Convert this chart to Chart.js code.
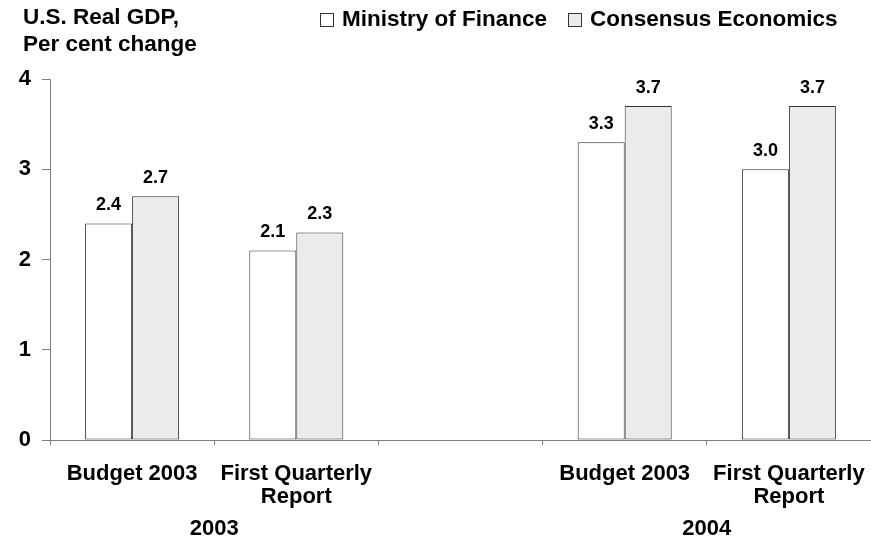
<!DOCTYPE html>
<html>
<head>
<meta charset="utf-8">
<script src="https://cdn.jsdelivr.net/npm/chart.js@4"></script>
<style>
  html, body { margin: 0; padding: 0; background: #fff; }
  #wrap { position: relative; width: 871px; height: 542px; font-family: "Liberation Sans", Arial, sans-serif; font-weight: bold; color: #000; }
  #chart { position: absolute; left: 0; top: 0; }
  #judul { position: absolute; left: 23px; top: 3px; font-size: 22.5px; line-height: 27px; }
  #legenda { position: absolute; left: 320px; top: 5px; font-size: 22.5px; line-height: 28px; white-space: nowrap; }
  .leg-item { display: inline-block; margin-right: 21px; }
  .leg-box { display: inline-block; width: 12px; height: 12px; border: 1px solid #333; vertical-align: -1px; margin-right: 8px; }
</style>
</head>
<body>
<div id="wrap">
  <canvas id="chart" width="871" height="542"></canvas>
  <div id="judul">U.S. Real GDP,<br>Per cent change</div>
  <div id="legenda"></div>
</div>
<script>
// data
var kategori = ['Budget 2003', ['First Quarterly', 'Report'], '', 'Budget 2003', ['First Quarterly', 'Report']];
var nilaiMof = [2.4, 2.1, null, 3.3, 3.0];
var nilaiConsensus = [2.7, 2.3, null, 3.7, 3.7];
var namaSeri = ['Ministry of Finance', 'Consensus Economics'];
var warnaSeri = ['#ffffff', '#ebebeb'];
var tahun = ['2003', '2004'];
var tahunIndex = [[0, 1], [3, 4]];   // kategori yg dicakup tiap tahun
var yTicks = [0, 1, 2, 3, 4];

// legend html
document.getElementById('legenda').innerHTML = namaSeri.map(function(n, i) {
  return '<span class="leg-item"><span class="leg-box" style="background:' + warnaSeri[i] + '"></span>' + n + '</span>';
}).join('');

var FONT = '"Liberation Sans", Arial, sans-serif';

// label nilai di atas bar
var labelNilai = {
  id: 'labelNilai',
  afterDatasetsDraw: function(chart) {
    var ctx = chart.ctx;
    ctx.save();
    ctx.font = 'bold 18px ' + FONT;
    ctx.fillStyle = '#000';
    ctx.textAlign = 'center';
    ctx.textBaseline = 'middle';
    chart.data.datasets.forEach(function(ds, i) {
      chart.getDatasetMeta(i).data.forEach(function(bar, j) {
        if (ds.data[j] == null) return;
        ctx.fillText(ds.data[j].toFixed(1), bar.x, bar.y - 18);
      });
    });
    ctx.restore();
  }
};

// label tahun di bawah sumbu x
var labelTahun = {
  id: 'labelTahun',
  afterDraw: function(chart) {
    var ctx = chart.ctx;
    var x = chart.scales.x;
    ctx.save();
    ctx.font = 'bold 22px ' + FONT;
    ctx.fillStyle = '#000';
    ctx.textAlign = 'center';
    ctx.textBaseline = 'middle';
    tahun.forEach(function(t, i) {
      var a = x.getPixelForValue(tahunIndex[i][0]);
      var b = x.getPixelForValue(tahunIndex[i][1]);
      ctx.fillText(t, (a + b) / 2, 529);
    });
    ctx.restore();
  }
};

new Chart(document.getElementById('chart'), {
  type: 'bar',
  data: {
    labels: kategori,
    datasets: [
      { label: namaSeri[0], data: nilaiMof, backgroundColor: warnaSeri[0], borderColor: '#333', borderWidth: 1, borderSkipped: false },
      { label: namaSeri[1], data: nilaiConsensus, backgroundColor: warnaSeri[1], borderColor: '#333', borderWidth: 1, borderSkipped: false }
    ]
  },
  options: {
    responsive: false,
    animation: false,
    events: [],
    layout: { padding: { top: 79, left: 0, right: 0, bottom: 0 } },
    datasets: { bar: { categoryPercentage: 0.5725, barPercentage: 1 } },
    plugins: { legend: { display: false }, tooltip: { enabled: false } },
    scales: {
      x: {
        grid: { display: true, drawOnChartArea: false, drawTicks: true, tickLength: 5, color: '#808080' },
        border: { display: true, color: '#808080' },
        ticks: { color: '#000', font: { family: FONT, size: 22, weight: 'bold' , lineHeight: 1.05 }, padding: 17, maxRotation: 0, autoSkip: false },
        afterFit: function(s) { s.height = 102; s.paddingLeft = 0; s.paddingRight = 0; }
      },
      y: {
        min: 0, max: 4,
        afterBuildTicks: function(s) { s.ticks = yTicks.map(function(v) { return { value: v }; }); },
        grid: { display: true, drawOnChartArea: false, drawTicks: true, tickLength: 8, color: '#808080' },
        border: { display: true, color: '#808080' },
        ticks: { color: '#000', font: { family: FONT, size: 22, weight: 'bold' }, padding: 11 },
        afterFit: function(s) { s.width = 50; }
      }
    }
  },
  plugins: [labelNilai, labelTahun]
});
</script>
</body>
</html>
